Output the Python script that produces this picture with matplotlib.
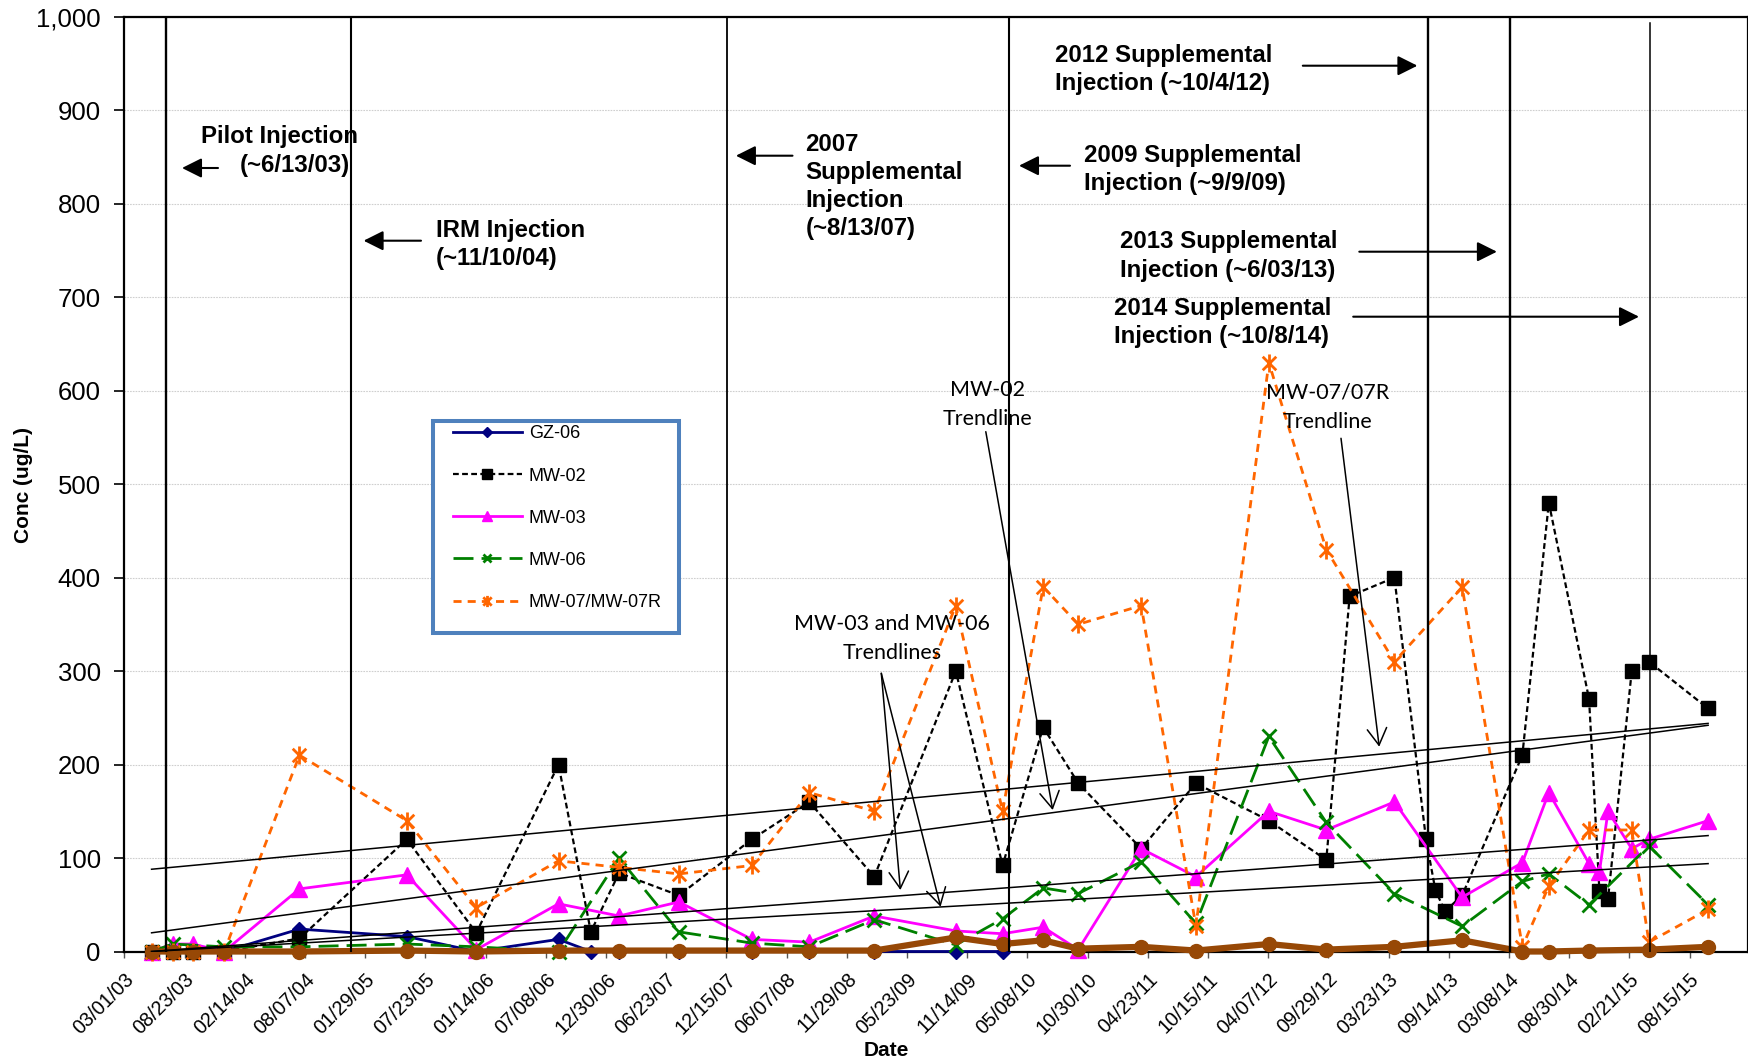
import numpy as np
import pandas as pd
import matplotlib
matplotlib.use("Agg")
import matplotlib.pyplot as plt
import matplotlib.dates as mdates
from matplotlib.path import Path
from matplotlib.patches import Rectangle
from matplotlib.ticker import FuncFormatter

plt.rcParams['font.family'] = 'Liberation Sans'

# sampling events
sample_dates = pd.to_datetime([
    '2003-05-19', '2003-07-20', '2003-09-15', '2003-12-16', '2004-07-22',
    '2005-05-30', '2005-12-18', '2006-08-14', '2006-11-16', '2007-02-06',
    '2007-07-30', '2008-02-27', '2008-08-12', '2009-02-17', '2009-10-12',
    '2010-02-25', '2010-06-23', '2010-10-03', '2011-04-04', '2011-09-10',
    '2012-04-09', '2012-09-23', '2012-11-30', '2013-04-09', '2013-07-10',
    '2013-08-06', '2013-09-03', '2013-10-23', '2014-04-16', '2014-07-02',
    '2014-10-27', '2014-11-26', '2014-12-21', '2015-02-28', '2015-04-19',
    '2015-10-08'])

N = None
gz06 = [0, 0, 0, 0, 24, 16, 0, 13, 0, 0, 0, 0, 0, 0, 0, 0,
        N, N, N, N, N, N, N, N, N, N, N, N, N, N, N, N, N, N, N, N]
mw02 = [0, 0, 0, 0, 14, 120, 20, 200, 21, 84, 60, 120, 160, 80, 300, 92,
        240, 180, 110, 180, 140, 98, 380, 400, 120, 66, 43, 60, 210, 480,
        270, 65, 56, 300, 310, 260]
mw03 = [0, 8, 8, 0, 67, 82, 2, 51, N, 38, 53, 13, 10, 38, 22, 19,
        26, 2, 110, 80, 150, 130, N, 160, N, N, N, 58, 95, 170,
        94, 85, 150, 110, 120, 140]
mw06 = [0, 8, N, 5, 5, 8, 5, 0, N, 100, 21, 9, 5, 34, 7, 35,
        68, 62, 96, 30, 230, 138, N, 62, N, N, N, 27, 75, 83,
        50, N, N, N, 113, 50]
mw07 = [0, 0, 0, 0, 210, 140, 47, 97, N, 90, 83, 92, 170, 150, 370, 150,
        390, 350, 370, 27, 630, 430, N, 310, N, N, N, 390, 5, 70,
        130, N, N, 130, 10, 45]
other = [0, 0, 0, 0, 0, 1, 0, 1, N, 1, 1, 1, 1, 1, 15, 8,
         12, 3, 5, 1, 8, 2, N, 5, N, N, N, 12, 0, 0,
         1, N, N, N, 2, 5]

# linear trendlines (value at first and last sampling date)
trend_dates = pd.to_datetime(['2003-05-19', '2015-10-08'])
trend_mw02 = [20, 242]
trend_mw03 = [0, 124]
trend_mw06 = [0, 94]
trend_mw07 = [88, 244]

# injection events (vertical markers)
injection_dates = pd.to_datetime(['2003-07-01', '2004-12-20', '2007-12-16', '2010-03-16',
                                  '2013-07-17', '2014-03-11', '2015-04-22'])
injection_widths = [1.7, 1.5, 1.3, 1.5, 1.7, 1.7, 1.1]

tick_dates = pd.date_range('2003-03-01', periods=27, freq='175D')

W, H = 1749, 1064
fig = plt.figure(figsize=(W / 100, H / 100), dpi=100)
ax = fig.add_axes([124.4 / W, 1 - 951.5 / H, (1748 - 124.4) / W, (951.5 - 16.7) / H])


def fx(x, y):
    return (x / W, 1 - y / H)


asterisk = Path([(0, -1), (0, 1), (-0.75, -0.75), (0.75, 0.75), (-0.75, 0.75), (0.75, -0.75)],
                [Path.MOVETO, Path.LINETO, Path.MOVETO, Path.LINETO, Path.MOVETO, Path.LINETO])


def draw(vals, **kw):
    v = np.array([np.nan if a is None else a for a in vals], dtype=float)
    ok = ~np.isnan(v)
    return ax.plot(sample_dates[ok], v[ok], clip_on=False, **kw)[0]


h1 = draw(gz06, color='#000080', lw=2, marker='D', ms=7.5, label='GZ-06', zorder=3)
h2 = draw(mw02, color='black', lw=1.6, ls=(0, (2.6, 1.5)), marker='s', ms=10.5,
          label='MW-02', zorder=4)
h3 = draw(mw03, color='#FF00FF', lw=2, marker='^', ms=11, label='MW-03', zorder=5)
h4 = draw(mw06, color='#008000', lw=2, ls=(0, (7.2, 2.9)), marker='x', ms=10, mew=2,
          label='MW-06', zorder=6)
h5 = draw(mw07, color='#FF6600', lw=2, ls=(0, (2.9, 2.2)), marker=asterisk, ms=13, mew=2,
          mfc='none', label='MW-07/MW-07R', zorder=7)
draw(other, color='#974806', lw=4.5, marker='o', ms=10, zorder=8)

for tv in (trend_mw02, trend_mw03, trend_mw06, trend_mw07):
    ax.plot(trend_dates, tv, color='black', lw=1.1, zorder=9)

for i, (d, w) in enumerate(zip(injection_dates, injection_widths)):
    ax.axvline(d, ymin=0, ymax=0.993 if i == len(injection_dates) - 1 else 1,
               color='black', lw=w, zorder=10)

ax.set_xlim(pd.Timestamp('2003-03-01'), pd.Timestamp('2016-02-01'))
ax.set_ylim(0, 1000)
ax.set_xticks(tick_dates)
ax.xaxis.set_major_formatter(mdates.DateFormatter('%m/%d/%y'))
ax.set_yticks(np.arange(0, 1001, 100))
ax.yaxis.set_major_formatter(FuncFormatter(lambda v, p: '{:,.0f}'.format(v)))
ax.tick_params(axis='y', labelsize=18.5, length=7, width=1.2, pad=10)
ax.tick_params(axis='x', labelsize=14.2, length=4, width=1, color='#555555', pad=9)
for lbl in ax.get_xticklabels():
    lbl.set_rotation(45)
    lbl.set_ha('right')
    lbl.set_va('top')
    lbl.set_rotation_mode('anchor')
for s in ax.spines.values():
    s.set_linewidth(1.6)
ax.yaxis.grid(True, color='#cfcfcf', lw=0.8, ls=(0, (1.5, 1)))
ax.set_axisbelow(True)

fig.text(23.7 / W, 1 - 485 / H, 'Conc (ug/L)', rotation=90, ha='center', va='center',
         fontsize=15, fontweight='bold')
fig.text(886.6 / W, 1 - 1050 / H, 'Date', ha='center', va='center',
         fontsize=15, fontweight='bold')

# legend box
ax.add_artist(Rectangle(fx(433.3, 633.3), (679.3 - 433.3) / W, (633.3 - 421) / H,
                        transform=fig.transFigure, fill=True, facecolor='white',
                        edgecolor='#4F81BD', lw=2.9, zorder=20))
leg = ax.legend(handles=[h1, h2, h3, h4, h5], loc='upper left', frameon=False,
                bbox_to_anchor=fx(452.7, 425.5), bbox_transform=fig.transFigure,
                fontsize=13, handlelength=3.82, handletextpad=0.4, labelspacing=1.39,
                borderpad=0, borderaxespad=0, markerscale=0.62, numpoints=1)
leg.set_zorder(21)

# injection notes: (text, x, baseline of first line, alignment)
notes = [
    ('IRM Injection\n(~11/10/04)', 436, 237, 'left'),
    ('2007\nSupplemental\nInjection\n(~8/13/07)', 805.5, 150, 'left'),
    ('2009 Supplemental\nInjection (~9/9/09)', 1084, 161.7, 'left'),
    ('2012 Supplemental\nInjection (~10/4/12)', 1055.4, 61.7, 'left'),
    ('2013 Supplemental\nInjection (~6/03/13)', 1120.5, 248.3, 'left'),
    ('2014 Supplemental\nInjection (~10/8/14)', 1113.6, 315, 'left'),
]
note_step = 28.4
for txt, x, y, ha in notes:
    y_last = y + txt.count('\n') * note_step
    fig.text(x / W, 1 - y_last / H, txt, ha=ha, va='baseline', multialignment=ha,
             fontsize=17.3, fontweight='bold', linespacing=1.29, zorder=22)
# pilot note has its second line indented
fig.text(201 / W, 1 - 143.3 / H, 'Pilot Injection', ha='left', va='baseline',
         fontsize=17.3, fontweight='bold', zorder=22)
fig.text(240 / W, 1 - 171.7 / H, '(~6/13/03)', ha='left', va='baseline',
         fontsize=17.3, fontweight='bold', zorder=22)

note_arrows = [((218, 168), (182, 168)), ((421, 240.7), (363.6, 240.7)),
               ((792.5, 155.7), (735.9, 155.7)), ((1070, 165.7), (1019, 165.7)),
               ((1302.8, 65.7), (1417.4, 65.7)), ((1359.3, 251.7), (1496.9, 251.7)),
               ((1353.2, 316.7), (1639, 316.7))]
for tail, tip in note_arrows:
    ax.annotate('', xy=fx(*tip), xytext=fx(*tail), xycoords='figure fraction',
                arrowprops=dict(arrowstyle='-|>,head_length=0.6,head_width=0.3',
                                mutation_scale=20, lw=1.5, color='black',
                                shrinkA=0, shrinkB=0), annotation_clip=False, zorder=22)

# trendline callouts: (text, center x, baseline of first line)
callouts = [('MW-02\nTrendline', 988, 395),
            ('MW-03 and MW-06\nTrendlines', 892, 629),
            ('MW-07/07R\nTrendline', 1328, 398)]
for txt, x, y in callouts:
    fig.text(x / W, 1 - (y + 30) / H, txt, ha='center', va='baseline',
             multialignment='center', fontsize=15.5, family='Lato', linespacing=1.59,
             zorder=22)

callout_arrows = [((985.8, 431.7), (1052.7, 810)), ((881.3, 673.3), (900.4, 890)),
                  ((881.3, 673.3), (940.6, 906.7)), ((1341, 438.3), (1379.2, 746.7))]
for tail, tip in callout_arrows:
    ax.annotate('', xy=fx(*tip), xytext=fx(*tail), xycoords='figure fraction',
                arrowprops=dict(arrowstyle='->,head_length=0.6,head_width=0.35',
                                mutation_scale=20, lw=1.1, color='black',
                                shrinkA=0, shrinkB=0), annotation_clip=False, zorder=22)

fig.savefig('out.png', dpi=100)
